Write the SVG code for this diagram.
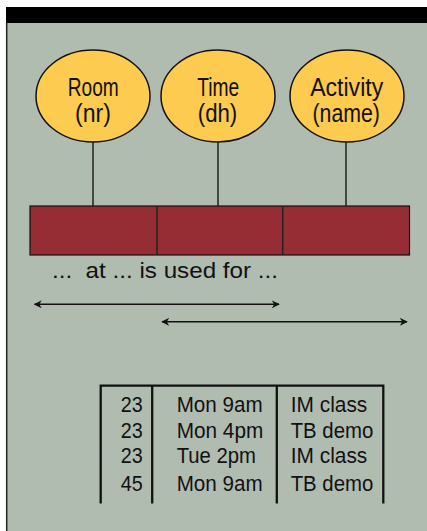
<svg xmlns="http://www.w3.org/2000/svg" width="427" height="531" viewBox="0 0 427 531">
  <style>
    .bg { fill: #b1bcb1; }
    .ent { fill: #fdcb4f; stroke: #111; stroke-width: 1.5; }
    .lbl { font-family: "Liberation Sans", Arial, sans-serif; font-size: 25.5px; fill: #111; text-anchor: middle; }
    .link { stroke: #222; stroke-width: 1.5; fill: none; }
    .rel { fill: #962d35; stroke: #111; stroke-width: 1.2; }
    .span { stroke: #111; stroke-width: 1.4; fill: none; }
    .txt { font-family: "Liberation Sans", Arial, sans-serif; font-size: 22px; fill: #111; }
    .grid { stroke: #111; stroke-width: 2.3; fill: none; }
  </style>
  <defs>
    <marker id="head" viewBox="0 0 10 10" refX="9" refY="5" markerWidth="8" markerHeight="8" markerUnits="userSpaceOnUse" orient="auto-start-reverse">
      <path d="M0,0 L10,5 L0,10 L3,5 Z" fill="#111"/>
    </marker>
  </defs>

  <!-- page frame -->
  <rect x="0" y="0" width="427" height="531" fill="#ffffff"/>
  <rect class="bg" x="6" y="23" width="421" height="508"/>
  <rect x="6" y="7" width="421" height="16" fill="#000"/>
  <line x1="6.7" y1="23" x2="6.7" y2="531" stroke="#222" stroke-width="1.5"/>

  <!-- attribute links and spans -->
  <g id="connectors">
    <line class="link" x1="93" y1="141" x2="93" y2="206"/>
    <line class="link" x1="218" y1="141" x2="218" y2="206"/>
    <line class="link" x1="346" y1="141" x2="346" y2="206"/>
    <line class="span" x1="34.5" y1="304.3" x2="279" y2="304.3" marker-start="url(#head)" marker-end="url(#head)"/>
    <line class="span" x1="162" y1="321.8" x2="407" y2="321.8" marker-start="url(#head)" marker-end="url(#head)"/>
  </g>

  <!-- entities -->
  <g id="room">
    <ellipse class="ent" cx="93" cy="96" rx="57" ry="46"/>
    <text class="lbl" x="93.3" y="96" textLength="51" lengthAdjust="spacingAndGlyphs">Room</text>
    <text class="lbl" x="93" y="122" textLength="36" lengthAdjust="spacingAndGlyphs">(nr)</text>
  </g>
  <g id="time">
    <ellipse class="ent" cx="218" cy="96" rx="57" ry="46"/>
    <text class="lbl" x="218.3" y="96" textLength="42" lengthAdjust="spacingAndGlyphs">Time</text>
    <text class="lbl" x="217.5" y="122" textLength="39.5" lengthAdjust="spacingAndGlyphs">(dh)</text>
  </g>
  <g id="activity">
    <ellipse class="ent" cx="347" cy="96" rx="57" ry="46"/>
    <text class="lbl" x="346.7" y="96" textLength="73" lengthAdjust="spacingAndGlyphs">Activity</text>
    <text class="lbl" x="346.2" y="122" textLength="67.5" lengthAdjust="spacingAndGlyphs">(name)</text>
  </g>

  <!-- relation tuple -->
  <g id="relation">
    <rect class="rel" x="30" y="206" width="379.5" height="49"/>
    <line class="link" x1="157" y1="206" x2="157" y2="255"/>
    <line class="link" x1="282.7" y1="206" x2="282.7" y2="255"/>
  </g>

  <g id="reading">
    <text class="txt" x="52" y="278.3" xml:space="preserve" textLength="226" lengthAdjust="spacingAndGlyphs">...  at ... is used for ...</text>
  </g>

  <!-- sample extension -->
  <g id="table">
    <path class="grid" d="M100.7,503.5 V385.7 H383.3 V503.5 M152.2,385.7 V503.5 M276.8,385.7 V503.5"/>
    <g class="txt">
      <text x="142.7" y="411.7" text-anchor="end" textLength="22" lengthAdjust="spacingAndGlyphs">23</text>
      <text x="142.7" y="437.7" text-anchor="end" textLength="22" lengthAdjust="spacingAndGlyphs">23</text>
      <text x="142.7" y="463.3" text-anchor="end" textLength="22" lengthAdjust="spacingAndGlyphs">23</text>
      <text x="142.7" y="490.7" text-anchor="end" textLength="22" lengthAdjust="spacingAndGlyphs">45</text>

      <text x="176.7" y="411.7" textLength="86" lengthAdjust="spacingAndGlyphs">Mon 9am</text>
      <text x="176.7" y="437.7" textLength="86.6" lengthAdjust="spacingAndGlyphs">Mon 4pm</text>
      <text x="176.7" y="463.3" textLength="79.3" lengthAdjust="spacingAndGlyphs">Tue 2pm</text>
      <text x="176.7" y="490.7" textLength="86" lengthAdjust="spacingAndGlyphs">Mon 9am</text>

      <text x="290.7" y="411.7" textLength="76.6" lengthAdjust="spacingAndGlyphs">IM class</text>
      <text x="290.7" y="437.7" textLength="82.6" lengthAdjust="spacingAndGlyphs">TB demo</text>
      <text x="290.7" y="463.3" textLength="76.6" lengthAdjust="spacingAndGlyphs">IM class</text>
      <text x="290.7" y="490.7" textLength="82.6" lengthAdjust="spacingAndGlyphs">TB demo</text>
    </g>
  </g>
</svg>
